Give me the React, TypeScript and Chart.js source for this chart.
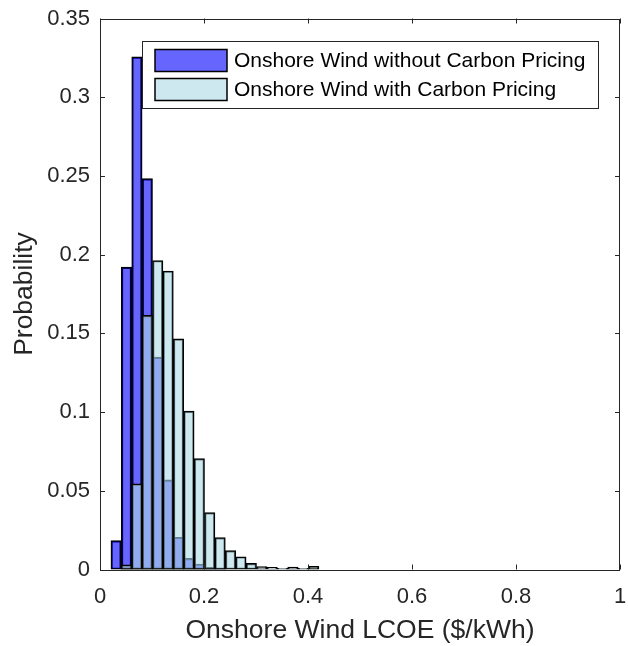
import React, { useEffect, useRef } from 'react';
import { Chart, registerables } from 'chart.js';

Chart.register(...registerables);

// Histogram bin centres (bin width 0.02)
const binCenters = [
  0.031, 0.051, 0.071, 0.091, 0.111, 0.131, 0.151, 0.171, 0.191, 0.211,
  0.231, 0.251, 0.271, 0.291, 0.311, 0.331, 0.351, 0.371, 0.391, 0.411,
];
const withoutCarbon = [
  0.0183, 0.1921, 0.3256, 0.2483, 0.1349, 0.0569, 0.0205, 0.0071, 0.0035, 0.0014,
  0.0006, 0, 0, 0, 0, 0, 0, 0, 0, 0,
];
const withCarbon = [
  0, 0.0029, 0.0544, 0.1614, 0.1963, 0.1896, 0.1465, 0.1006, 0.0704, 0.0361,
  0.0202, 0.012, 0.0081, 0.0039, 0.0018, 0.0014, 0.0007, 0.0016, 0.0008, 0.002,
];
const seriesNames = ['Onshore Wind without Carbon Pricing', 'Onshore Wind with Carbon Pricing'];
const xTickValues = [0, 0.2, 0.4, 0.6, 0.8, 1];
const yTickValues = [0, 0.05, 0.1, 0.15, 0.2, 0.25, 0.3, 0.35];
const xTitle = 'Onshore Wind LCOE ($/kWh)';
const yTitle = 'Probability';

const BLUE = 'rgba(0,0,255,0.6)';
const LIGHT = 'rgba(173,216,230,0.6)';
const AXIS = '#262626';
const FONT = '"Liberation Sans", Arial, sans-serif';

const fmt = (v: number) => String(Math.round(v * 100) / 100);

export default function App() {
  const ref = useRef<HTMLCanvasElement | null>(null);

  useEffect(() => {
    if (!ref.current) return;

    const boxPlugin = {
      id: 'matlabBox',
      afterDraw(chart: any) {
        const { ctx, chartArea } = chart;
        const { left, right, top, bottom } = chartArea;
        const xs = chart.scales.x;
        const ys = chart.scales.y;
        ctx.save();
        ctx.strokeStyle = AXIS;
        ctx.lineWidth = 1;
        ctx.beginPath();
        ctx.rect(Math.round(left) + 0.5, Math.round(top) + 0.5, Math.round(right - left) - 1, Math.round(bottom - top));
        ctx.stroke();
        const tl = 5;
        ctx.beginPath();
        xTickValues.forEach((v) => {
          const px = Math.round(xs.getPixelForValue(v)) + 0.5;
          ctx.moveTo(px, bottom);
          ctx.lineTo(px, bottom - tl);
          ctx.moveTo(px, top);
          ctx.lineTo(px, top + tl);
        });
        yTickValues.forEach((v) => {
          const py = Math.round(ys.getPixelForValue(v)) + 0.5;
          ctx.moveTo(left, py);
          ctx.lineTo(left + tl, py);
          ctx.moveTo(right, py);
          ctx.lineTo(right - tl, py);
        });
        ctx.stroke();

        // legend inside the axes
        const lx = 142.5, ly = 41.5, lw = 456, lh = 67;
        ctx.fillStyle = '#ffffff';
        ctx.fillRect(lx, ly, lw, lh);
        ctx.strokeStyle = AXIS;
        ctx.strokeRect(lx, ly, lw, lh);
        const sw = [
          { y: 49.5, color: BLUE },
          { y: 78.5, color: LIGHT },
        ];
        ctx.font = `21px ${FONT}`;
        ctx.textBaseline = 'middle';
        ctx.textAlign = 'left';
        sw.forEach((s, i) => {
          ctx.fillStyle = '#ffffff';
          ctx.fillRect(155, s.y, 72, 22);
          ctx.fillStyle = s.color;
          ctx.fillRect(155, s.y, 72, 22);
          ctx.strokeStyle = '#000000';
          ctx.lineWidth = 1.5;
          ctx.strokeRect(155, s.y, 72, 22);
          ctx.fillStyle = '#000000';
          ctx.fillText(seriesNames[i], 234, s.y + 12);
        });
        ctx.restore();
      },
    };

    const chart = new Chart(ref.current, {
      type: 'bar',
      data: {
        datasets: [
          {
            label: seriesNames[0],
            data: binCenters.map((x, i) => ({ x, y: withoutCarbon[i] })),
            backgroundColor: BLUE,
            borderColor: '#000000',
            borderWidth: 1.5,
            borderSkipped: false,
            grouped: false,
            categoryPercentage: 1,
            barPercentage: 1,
            order: 1,
          } as any,
          {
            label: seriesNames[1],
            data: binCenters.map((x, i) => ({ x, y: withCarbon[i] })),
            backgroundColor: LIGHT,
            borderColor: '#000000',
            borderWidth: 1.5,
            borderSkipped: false,
            grouped: false,
            categoryPercentage: 1,
            barPercentage: 1,
            order: 0,
          } as any,
        ],
      },
      plugins: [boxPlugin],
      options: {
        responsive: false,
        animation: false,
        events: [],
        layout: { padding: { top: 18.5, right: 8, bottom: 0, left: 0 } },
        plugins: {
          legend: { display: false },
          tooltip: { enabled: false },
        },
        scales: {
          x: {
            type: 'linear',
            min: 0,
            max: 1,
            offset: false,
            grid: { display: false, drawTicks: false },
            border: { display: false },
            ticks: {
              stepSize: 0.2,
              maxRotation: 0,
              autoSkip: false,
              padding: 14,
              color: AXIS,
              font: { family: FONT, size: 22 },
              callback: (v: any) => fmt(Number(v)),
            },
            title: {
              display: true,
              text: xTitle,
              color: AXIS,
              font: { family: FONT, size: 26.5, lineHeight: 1.1 },
              padding: { top: 0, bottom: 0.5 },
            },
            afterFit: (s: any) => {
              s.height = 76.5;
              s.paddingLeft = 0;
              s.paddingRight = 0;
            },
          },
          y: {
            type: 'linear',
            min: 0,
            max: 0.35,
            grid: { display: false, drawTicks: false },
            border: { display: false },
            ticks: {
              stepSize: 0.05,
              autoSkip: false,
              padding: 10,
              color: AXIS,
              font: { family: FONT, size: 22 },
              callback: (v: any) => fmt(Number(v)),
            },
            title: {
              display: true,
              text: yTitle,
              color: AXIS,
              font: { family: FONT, size: 26.5, lineHeight: 1.1 },
              padding: { top: 10.5, bottom: 0 },
            },
            afterFit: (s: any) => {
              s.width = 100;
              s.paddingTop = 0;
              s.paddingBottom = 0;
            },
          },
        },
      } as any,
    });

    return () => chart.destroy();
  }, []);

  return (
    <>
      <style>{'body{margin:0}'}</style>
      <canvas ref={ref} width={628} height={646} style={{ display: 'block' }} />
    </>
  );
}
